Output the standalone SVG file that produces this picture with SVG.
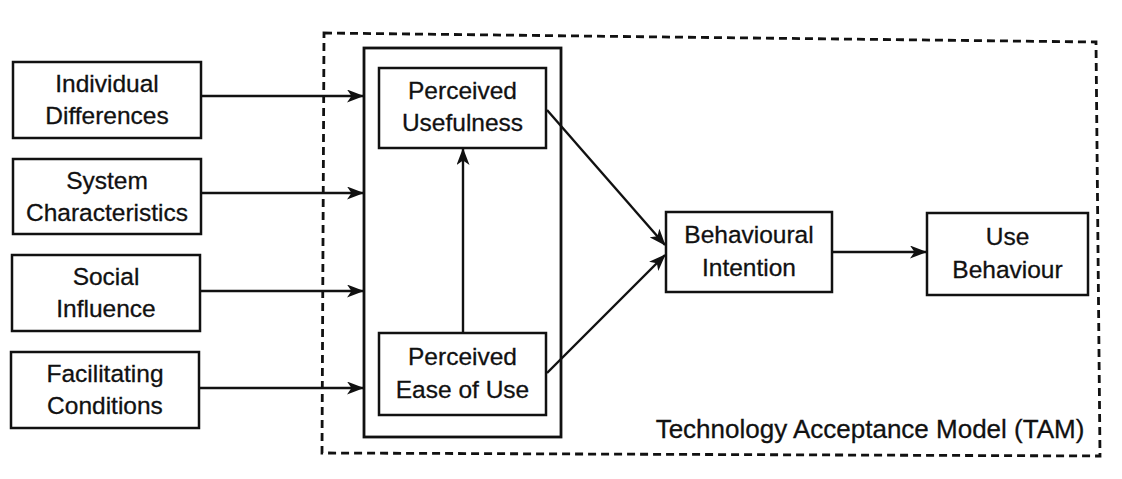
<svg xmlns="http://www.w3.org/2000/svg" width="1122" height="479" viewBox="0 0 1122 479">
  <style>
    .box { fill: #ffffff; stroke: #111111; stroke-width: 2.5; }
    .frame { fill: none; stroke: #111111; stroke-width: 2.8; }
    .tam { fill: none; stroke: #111111; stroke-width: 2.8; stroke-dasharray: 8 5; }
    .lbl { font-family: "Liberation Sans", Arial, sans-serif; font-size: 24.5px; fill: #111111; text-anchor: middle; stroke: #111111; stroke-width: 0.3; }
    .cap { font-family: "Liberation Sans", Arial, sans-serif; font-size: 26px; fill: #111111; text-anchor: middle; stroke: #111111; stroke-width: 0.3; }
    .link { fill: none; stroke: #111111; stroke-width: 2.4; marker-end: url(#head); }
  </style>
  <defs>
    <marker id="head" viewBox="0 0 17 13" markerWidth="17" markerHeight="13" refX="16" refY="6.5" orient="auto" markerUnits="userSpaceOnUse">
      <path d="M0,0 L17,6.5 L0,13 L4.5,6.5 z" fill="#111111"/>
    </marker>
  </defs>

  <rect width="1122" height="479" fill="#ffffff"/>

  <!-- TAM boundary (dashed) -->
  <g id="tam-boundary">
    <path class="tam" d="M324,33 L1096,42 L1100,456 L322,453 Z"/>
    <text class="cap" x="870" y="438">Technology Acceptance Model (TAM)</text>
  </g>

  <!-- perception frame holding the two perceived constructs -->
  <g id="perception-frame">
    <rect class="frame" x="364" y="48" width="197" height="389"/>
  </g>

  <g id="individual-differences">
    <rect class="box" x="13" y="62" width="188" height="76"/>
    <text class="lbl" x="107" y="92">Individual</text>
    <text class="lbl" x="107" y="124">Differences</text>
  </g>

  <g id="system-characteristics">
    <rect class="box" x="13" y="159" width="188" height="75"/>
    <text class="lbl" x="107" y="189">System</text>
    <text class="lbl" x="107" y="221">Characteristics</text>
  </g>

  <g id="social-influence">
    <rect class="box" x="12" y="255" width="188" height="76"/>
    <text class="lbl" x="106" y="285">Social</text>
    <text class="lbl" x="106" y="317">Influence</text>
  </g>

  <g id="facilitating-conditions">
    <rect class="box" x="11" y="352" width="188" height="76"/>
    <text class="lbl" x="105" y="382">Facilitating</text>
    <text class="lbl" x="105" y="414">Conditions</text>
  </g>

  <g id="perceived-usefulness">
    <rect class="box" x="379" y="68" width="167" height="80"/>
    <text class="lbl" x="462.5" y="99">Perceived</text>
    <text class="lbl" x="462.5" y="131">Usefulness</text>
  </g>

  <g id="perceived-ease-of-use">
    <rect class="box" x="379" y="333" width="167" height="82"/>
    <text class="lbl" x="462.5" y="365">Perceived</text>
    <text class="lbl" x="462.5" y="398">Ease of Use</text>
  </g>

  <g id="behavioural-intention">
    <rect class="box" x="666" y="212" width="166" height="80"/>
    <text class="lbl" x="749" y="243">Behavioural</text>
    <text class="lbl" x="749" y="276">Intention</text>
  </g>

  <g id="use-behaviour">
    <rect class="box" x="927" y="213" width="161" height="82"/>
    <text class="lbl" x="1007.5" y="245">Use</text>
    <text class="lbl" x="1007.5" y="278">Behaviour</text>
  </g>

  <g id="connectors">
    <path class="link" d="M201,96 L363,96"/>
    <path class="link" d="M201,193 L363,193"/>
    <path class="link" d="M200,291 L363,291"/>
    <path class="link" d="M199,388 L363,388"/>
    <path class="link" d="M463,333 L463,149"/>
    <path class="link" d="M547,110 L665,245"/>
    <path class="link" d="M547,373 L665,255"/>
    <path class="link" d="M832,252 L926,252"/>
  </g>
</svg>
